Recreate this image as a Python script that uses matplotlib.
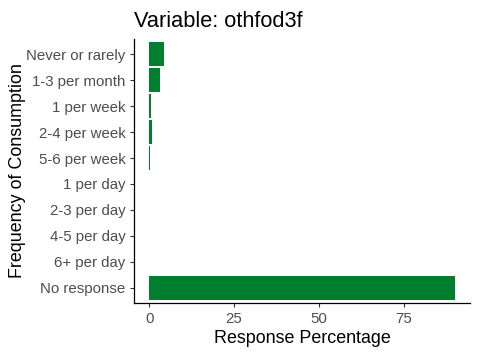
import matplotlib
matplotlib.use("Agg")
import matplotlib.pyplot as plt

plt.rcParams['font.family'] = ['Liberation Sans', 'DejaVu Sans']

categories = ["Never or rarely", "1-3 per month", "1 per week", "2-4 per week",
              "5-6 per week", "1 per day", "2-3 per day", "4-5 per day",
              "6+ per day", "No response"]
values = [4.4, 3.2, 0.6, 0.9, 0.3, 0.0, 0.0, 0.0, 0.0, 90.0]
xticks = [0, 25, 50, 75]

fig = plt.figure(figsize=(4.8, 3.6), dpi=100)
ax = fig.add_axes([0.279, 0.157, 0.700, 0.736])
pos = list(range(len(categories)))
ax.barh(pos, values, height=0.9, color="#007F2F")
ax.set_yticks(pos)
ax.set_yticklabels(categories)
ax.set_ylim(len(categories) - 1 + 0.6, -0.6)
ax.set_xlim(-0.05 * max(values), 1.05 * max(values))
ax.set_xticks(xticks)
ax.tick_params(axis='both', colors='#333333', labelcolor='#4D4D4D', labelsize=10.8, length=3, width=0.8, pad=3)
for s in ['top', 'right']:
    ax.spines[s].set_visible(False)
for s in ['left', 'bottom']:
    ax.spines[s].set_color('black')
    ax.spines[s].set_linewidth(0.9)
ax.set_xlabel("Response Percentage", fontsize=12.9, color='black', labelpad=3)
fig.text(18 / 480, 1 - 171 / 360, "Frequency of Consumption", fontsize=12.9, color='black',
         rotation=90, ha='center', va='center')
fig.text(0.279, 1 - 27 / 360, "Variable: othfod3f", fontsize=15.7, color='black', ha='left', va='baseline')
fig.savefig("out.png", dpi=100)
